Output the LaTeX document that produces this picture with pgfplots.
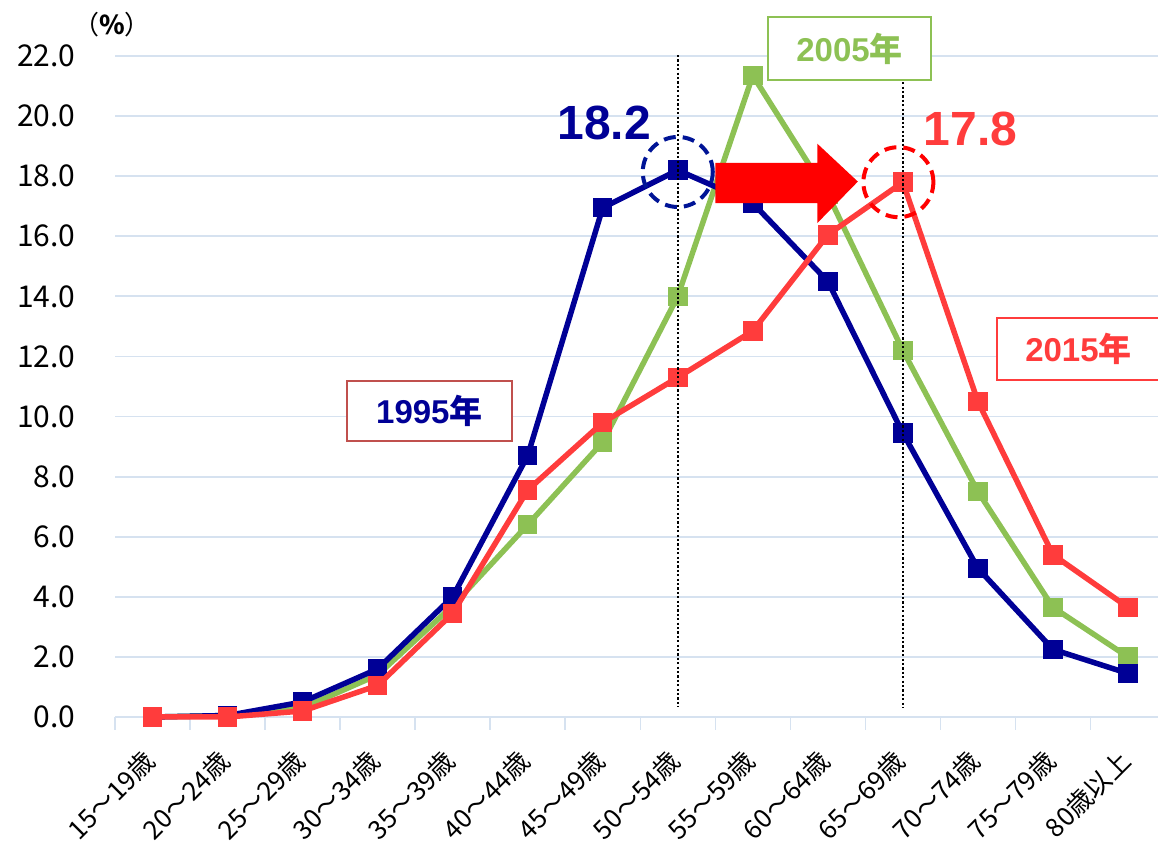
\documentclass[border=0pt]{standalone}
\usepackage{pgfplots}
\pgfplotsset{compat=1.18}
\usepackage{fontspec}
\setmainfont{Noto Sans CJK JP}
\newfontfamily\arl{Liberation Sans}
\definecolor{c95}{RGB}{0,0,150}
\definecolor{c05}{RGB}{141,193,84}
\definecolor{c15}{RGB}{255,60,60}
\definecolor{gridc}{RGB}{214,226,240}
\definecolor{boxr}{RGB}{192,80,77}
\definecolor{dashb}{RGB}{0,20,150}

\begin{document}
\begin{tikzpicture}
\path[use as bounding box] (0,0) rectangle (1158pt,842pt);
\begin{axis}[
  at={(115pt,125pt)}, anchor=south west,
  scale only axis, width=1043pt, height=661pt,
  xmin=-0.5, xmax=13.4, ymin=0, ymax=22,
  clip=false, clip mode=individual,
  axis line style={draw=none},
  ytick={0,2,...,22},
  ymajorgrids, grid style={gridc, line width=1.8pt},
  major tick length=0pt,
  tick pos=left,
  xtick={0,...,13},
  xticklabels={15～19歳,20～24歳,25～29歳,30～34歳,35～39歳,40～44歳,45～49歳,50～54歳,55～59歳,60～64歳,65～69歳,70～74歳,75～79歳,80歳以上},
  minor xtick={-0.5,0.5,...,12.5},
  minor tick length=13pt, tick align=outside,
  minor tick style={gridc, line width=1.5pt},
  yticklabel style={font=\fontsize{30}{36}\selectfont, xshift=-36pt,
    /pgf/number format/.cd, fixed, fixed zerofill, precision=1, assume math mode=true},
  xticklabel style={font=\fontsize{26}{31}\selectfont, xshift=-11pt, yshift=-26pt, rotate=45, anchor=north east},
]
\addplot[c05, line width=5.5pt, mark=square*, mark size=7pt] coordinates {
  (0,0.0) (1,0.05) (2,0.3) (3,1.4) (4,3.7) (5,6.4) (6,9.15) (7,14.0)
  (8,21.35) (9,17.4) (10,12.2) (11,7.5) (12,3.65) (13,2.0)};
\addplot[c95, line width=5.5pt, mark=square*, mark size=7pt] coordinates {
  (0,0.0) (1,0.05) (2,0.5) (3,1.6) (4,4.0) (5,8.7) (6,16.95) (7,18.2)
  (8,17.1) (9,14.5) (10,9.45) (11,4.95) (12,2.25) (13,1.45)};
\addplot[c15, line width=5.5pt, mark=square*, mark size=7pt] coordinates {
  (0,0.0) (1,0.0) (2,0.2) (3,1.05) (4,3.45) (5,7.55) (6,9.8) (7,11.3)
  (8,12.85) (9,16.05) (10,17.8) (11,10.5) (12,5.4) (13,3.65)};

\draw[black, line width=2.2pt, dash pattern=on 2.2pt off 2.2pt] (axis cs:7,22.03) -- (axis cs:7,0.33);
\draw[black, line width=2.2pt, dash pattern=on 2.2pt off 2.2pt] (axis cs:10,21.13) -- (axis cs:10,0.33);
\draw[dashb, line width=4pt, dash pattern=on 12pt off 7pt] (axis cs:7,18.14) circle[radius=35pt];
\draw[red, line width=4pt, dash pattern=on 12pt off 7pt] (axis cs:9.94,17.8) circle[radius=35pt];
\fill[red] (axis cs:7.5,18.44) -- (axis cs:8.86,18.44) -- (axis cs:8.86,19.08) -- (axis cs:9.40,17.82)
  -- (axis cs:8.86,16.44) -- (axis cs:8.86,17.1) -- (axis cs:7.5,17.1) -- cycle;

\node[text=c95, font=\arl\bfseries\fontsize{48}{50}\selectfont] at (axis cs:6.02,19.77) {18.2};
\node[text=c15, font=\arl\bfseries\fontsize{48}{50}\selectfont] at (axis cs:10.9,19.57) {17.8};

\node[draw=boxr, line width=2pt, fill=white, minimum width=165pt, minimum height=60pt, inner sep=0pt,
  text=c95, font=\bfseries\fontsize{33}{36}\selectfont] at (axis cs:3.69,10.18) {{\arl 1995}年};
\node[draw=c05, line width=2pt, fill=white, minimum width=163pt, minimum height=63pt, inner sep=0pt,
  text=c05, font=\bfseries\fontsize{33}{36}\selectfont] at (axis cs:9.29,22.25) {{\arl 2005}年};
\node[draw=c15, line width=2pt, fill=white, minimum width=163pt, minimum height=62pt, inner sep=0pt,
  text=c15, font=\bfseries\fontsize{33}{36}\selectfont] at (axis cs:12.34,12.25) {{\arl 2015}年};

\node[font=\fontsize{26}{28}\selectfont] at (axis cs:-0.54,23.03) {（{\bfseries\%}）};
\end{axis}
\end{tikzpicture}
\end{document}
